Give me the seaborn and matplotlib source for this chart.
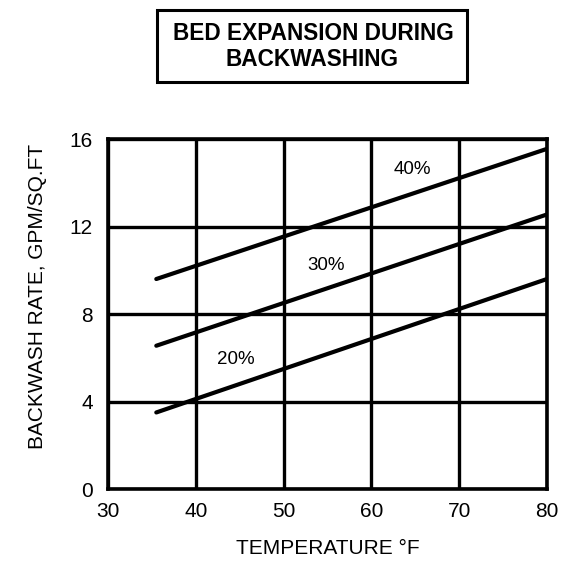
import matplotlib
matplotlib.use("Agg")
import matplotlib.pyplot as plt
from matplotlib.patches import Rectangle
import seaborn as sns
import pandas as pd

# Data
temps = [35.5, 80]
rate_20 = [3.5, 9.6]
rate_30 = [6.55, 12.55]
rate_40 = [9.6, 15.55]
series_labels = ["20%", "30%", "40%"]
label_pos_x = [44.6, 54.8, 64.7]
label_pos_y = [5.9, 10.2, 14.6]
x_ticks = [30, 40, 50, 60, 70, 80]
y_ticks = [0, 4, 8, 12, 16]
title_lines = ["BED EXPANSION DURING", "BACKWASHING"]

df = pd.DataFrame({
    "temp": temps * 3,
    "rate": rate_20 + rate_30 + rate_40,
    "exp": [series_labels[0]] * 2 + [series_labels[1]] * 2 + [series_labels[2]] * 2,
})

sns.set_theme(style="white")
plt.rcParams["font.family"] = ["Liberation Sans", "DejaVu Sans"]
plt.rcParams["text.color"] = "black"
plt.rcParams["axes.labelcolor"] = "black"

fig = plt.figure(figsize=(5.70, 5.61), dpi=100)
ax = fig.add_axes([0.1895, 0.1283, 0.770, 0.6239])

sns.lineplot(data=df, x="temp", y="rate", units="exp", estimator=None,
             color="black", lw=3, ax=ax, legend=False)

ax.set_xlim(30, 80)
ax.set_ylim(0, 16)
ax.set_xticks(x_ticks)
ax.set_yticks(y_ticks)
ax.tick_params(axis="both", length=0, labelsize=15, colors="black")
ax.tick_params(axis="x", pad=9)
ax.tick_params(axis="y", pad=11)
ax.grid(True, color="black", lw=2.4)
for s in ax.spines.values():
    s.set_color("black")
    s.set_linewidth(2.6)

for lab, lx, ly in zip(series_labels, label_pos_x, label_pos_y):
    ax.text(lx, ly, lab, fontsize=13.5, ha="center", va="center", color="black")

ax.set_xlabel("TEMPERATURE °F", fontsize=15, labelpad=13, color="black")
ax.set_ylabel("BACKWASH RATE, GPM/SQ.FT", fontsize=15, color="black", va="center")
ax.yaxis.set_label_coords(-0.1617, 0.549)

# Title box
fig.patches.append(Rectangle((157 / 570, 1 - 82 / 561), 310 / 570, 72 / 561,
                             transform=fig.transFigure, fill=False,
                             ec="black", lw=2.2))
fig.text(313.5 / 570, 1 - 33 / 561, title_lines[0], ha="center", va="center",
         fontsize=16.3, fontweight="bold")
fig.text(312 / 570, 1 - 60 / 561, title_lines[1], ha="center", va="center",
         fontsize=16.3, fontweight="bold")

fig.savefig("out.png", dpi=100, facecolor="white")
